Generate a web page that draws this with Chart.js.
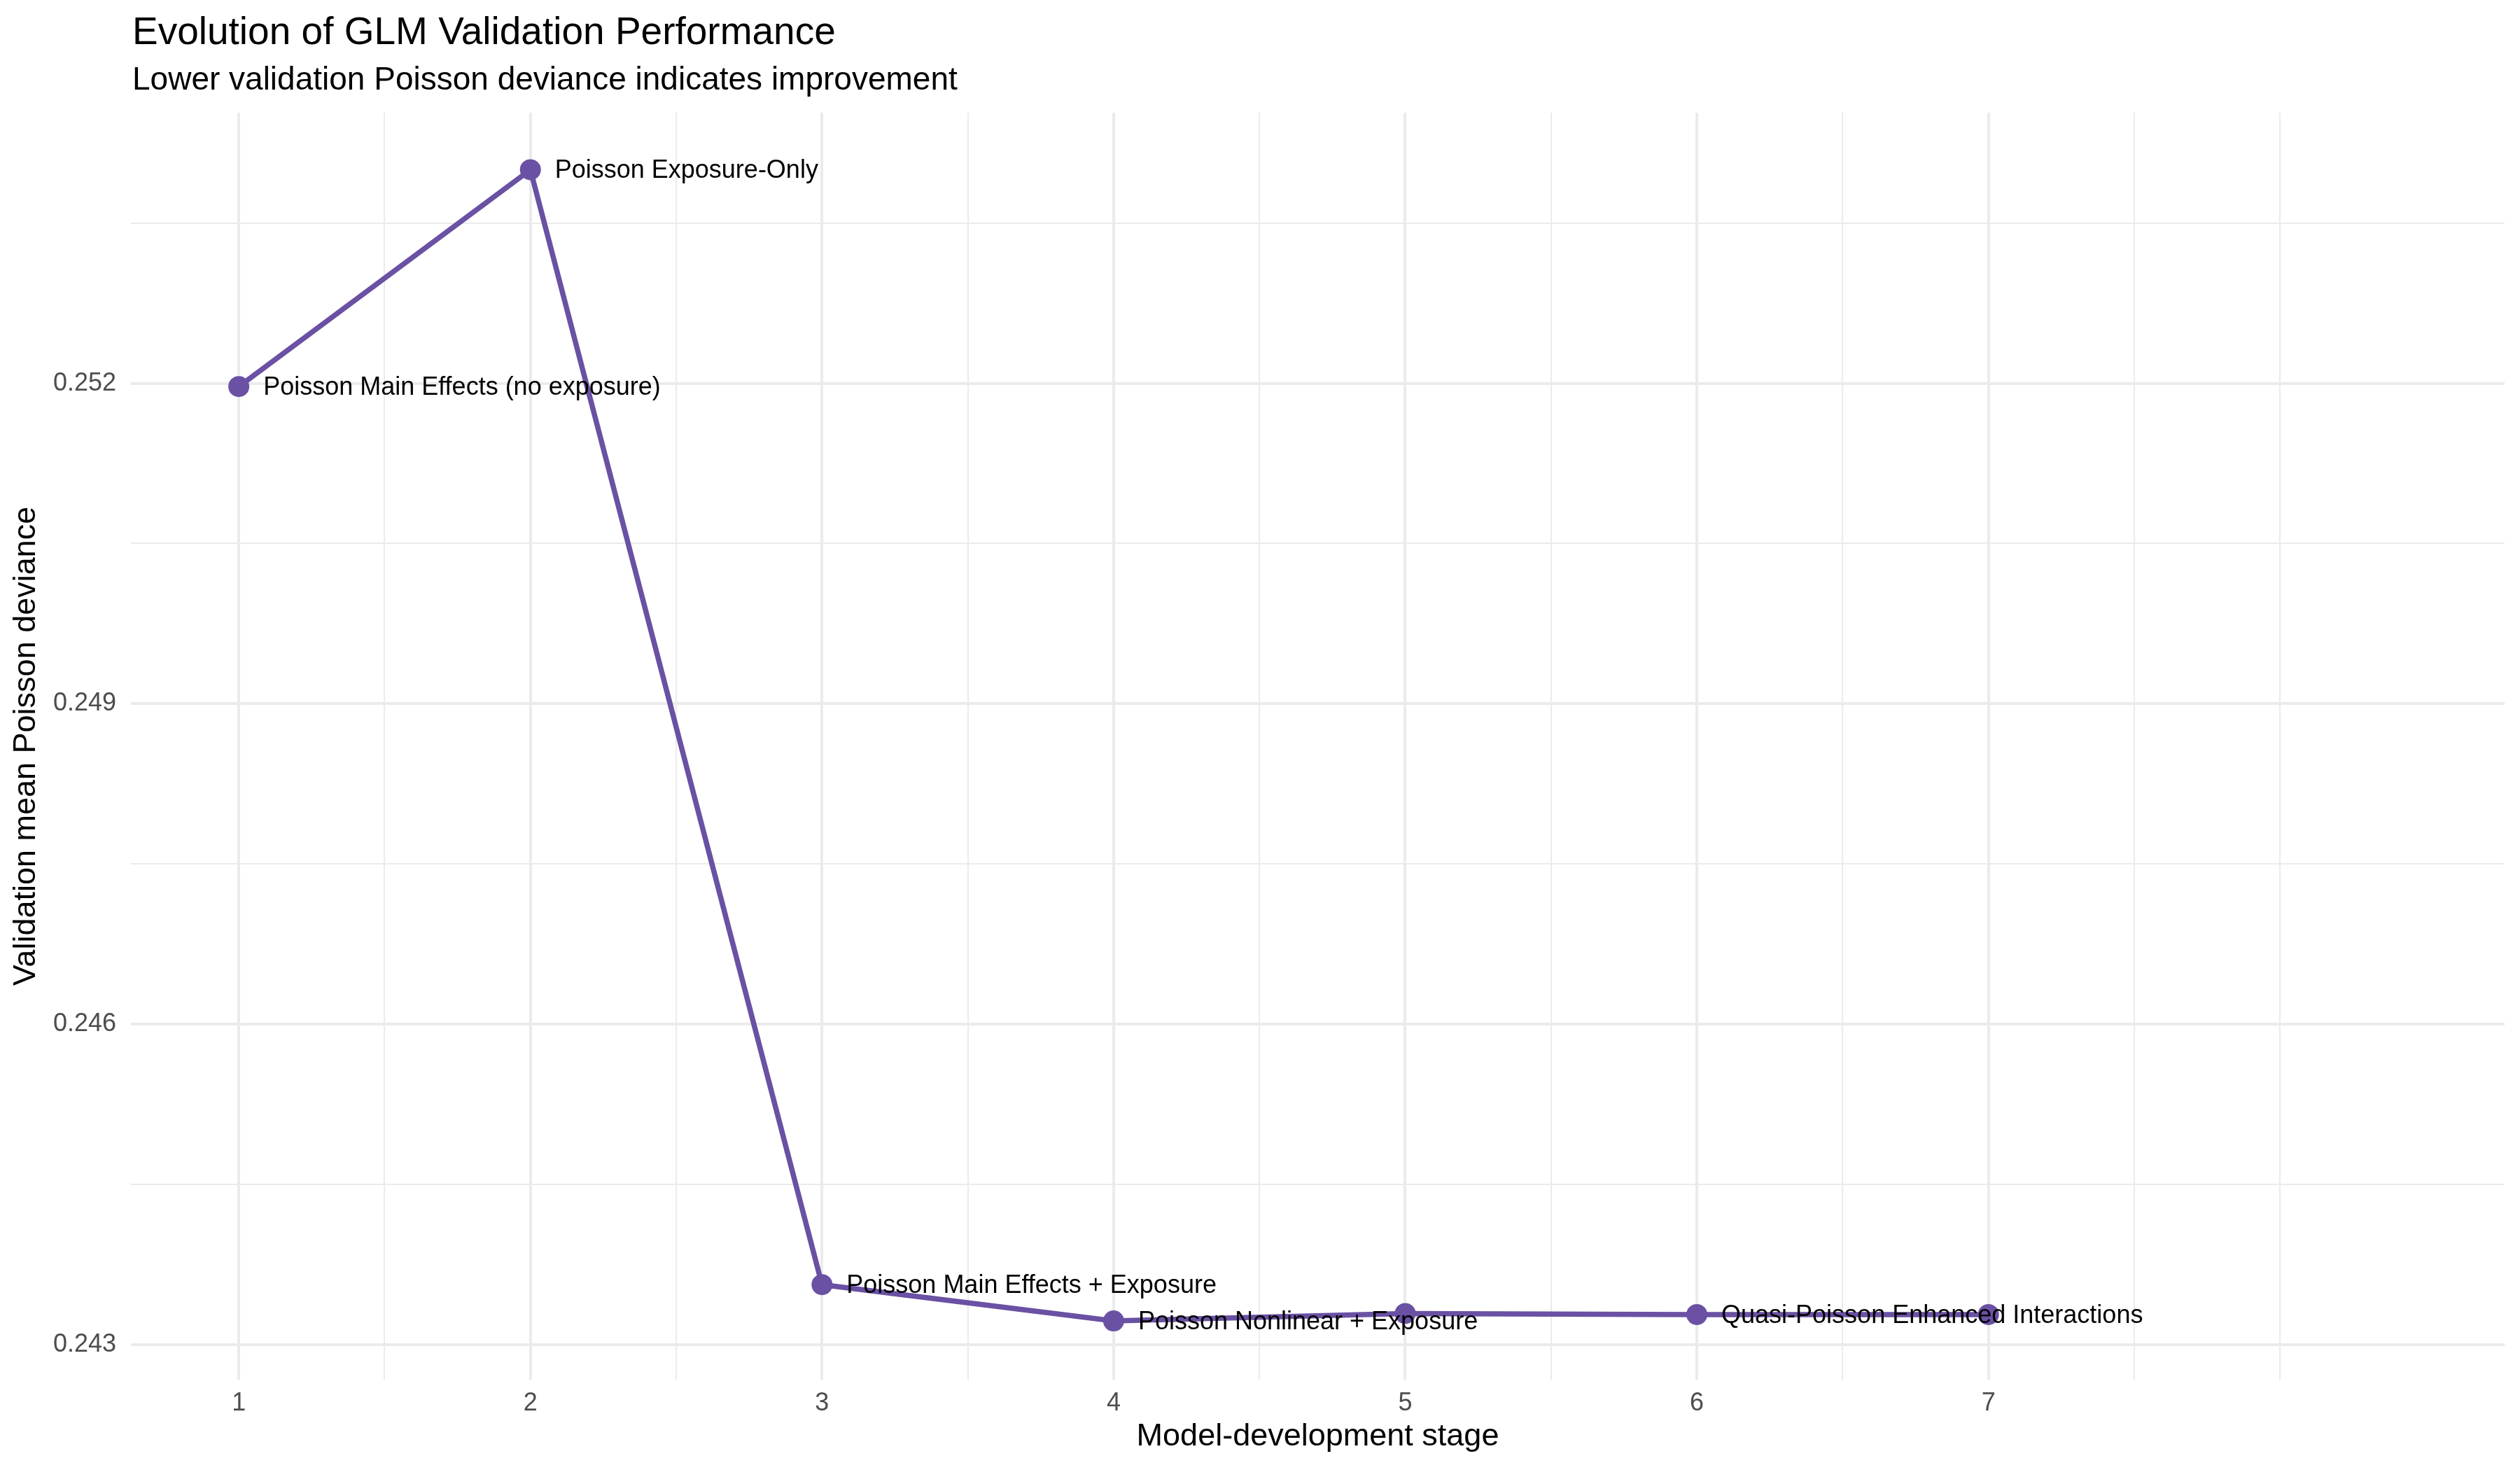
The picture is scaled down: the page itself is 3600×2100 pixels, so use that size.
<!DOCTYPE html>
<html>
<head>
<meta charset="utf-8">
<script src="https://cdn.jsdelivr.net/npm/chart.js@4.4.1/dist/chart.umd.min.js"></script>
<style>
  html, body { margin: 0; padding: 0; background: #ffffff; }
  #chart { display: block; }
</style>
</head>
<body>
<canvas id="chart" width="3600" height="2100"></canvas>
<script>
// Chart data
const stages = [1, 2, 3, 4, 5, 6, 7];
const deviance = [0.25197, 0.254, 0.24356, 0.24322, 0.24329, 0.24328, 0.24328];
const modelLabels = [
  "Poisson Main Effects (no exposure)",
  "Poisson Exposure-Only",
  "Poisson Main Effects + Exposure",
  "Poisson Nonlinear + Exposure",
  "",
  "Quasi-Poisson Enhanced Interactions",
  "",
];

// Tick positions
const xMajorTicks = [1, 2, 3, 4, 5, 6, 7];
const xMinorTicks = [1.5, 2.5, 3.5, 4.5, 5.5, 6.5, 7.5, 8];
const yMajorTicks = [0.243, 0.246, 0.249, 0.252];
const yMinorTicks = [0.2445, 0.2475, 0.2505, 0.2535];

const titleText = "Evolution of GLM Validation Performance";
const subtitleText = "Lower validation Poisson deviance indicates improvement";
const xTitle = "Model-development stage";
const yTitle = "Validation mean Poisson deviance";

const FONT = "'Liberation Sans', Arial, Helvetica, sans-serif";
const PURPLE = "#6A51A3";
const GRID = "#EBEBEB";

// Title and subtitle, left aligned with the panel
const titlePlugin = {
  id: "titles",
  afterDraw(chart) {
    const { ctx, chartArea } = chart;
    ctx.save();
    ctx.fillStyle = "#000000";
    ctx.textAlign = "left";
    ctx.textBaseline = "alphabetic";
    ctx.font = `55px ${FONT}`;
    ctx.fillText(titleText, chartArea.left + 2, 63);
    ctx.font = `46px ${FONT}`;
    ctx.fillText(subtitleText, chartArea.left + 2, 128);
    ctx.restore();
  },
};

// Text labels next to each point
const pointLabelPlugin = {
  id: "pointLabels",
  afterDatasetsDraw(chart) {
    const { ctx } = chart;
    const meta = chart.getDatasetMeta(0);
    ctx.save();
    ctx.fillStyle = "#000000";
    ctx.textAlign = "left";
    ctx.textBaseline = "middle";
    ctx.font = `36px ${FONT}`;
    meta.data.forEach((pt, i) => {
      if (!modelLabels[i]) return;
      ctx.fillText(modelLabels[i], pt.x + 35, pt.y + 2);
    });
    ctx.restore();
  },
};

function toTicks(major, minor) {
  return major.concat(minor).sort((a, b) => a - b).map((v) => ({ value: v }));
}

const points = stages.map((s, i) => ({ x: s, y: deviance[i] }));

new Chart(document.getElementById("chart").getContext("2d"), {
  type: "line",
  data: {
    datasets: [
      {
        data: points,
        borderColor: PURPLE,
        backgroundColor: PURPLE,
        borderWidth: 7.5,
        pointRadius: 15,
        pointBorderWidth: 0,
        pointBackgroundColor: PURPLE,
        tension: 0,
        clip: false,
      },
    ],
  },
  options: {
    responsive: false,
    devicePixelRatio: 1,
    animation: false,
    layout: {
      padding: { top: 161, right: 22, left: 0, bottom: 0 },
    },
    plugins: {
      legend: { display: false },
      tooltip: { enabled: false },
    },
    scales: {
      x: {
        type: "linear",
        min: 0.63,
        max: 8.77,
        afterBuildTicks: (scale) => {
          scale.ticks = toTicks(xMajorTicks, xMinorTicks);
        },
        afterFit: (scale) => {
          scale.height = 129;
        },
        border: { display: false },
        grid: {
          color: GRID,
          drawTicks: false,
          lineWidth: (ctx) =>
            ctx.tick && xMajorTicks.includes(ctx.tick.value) ? 4 : 2,
        },
        ticks: {
          autoSkip: false,
          maxRotation: 0,
          padding: 12,
          color: "#4D4D4D",
          font: { family: FONT, size: 36 },
          callback: (value) => (xMajorTicks.includes(value) ? String(value) : ""),
        },
        title: {
          display: true,
          text: xTitle,
          color: "#000000",
          font: { family: FONT, size: 45 },
          padding: { top: 0, bottom: 20 },
        },
      },
      y: {
        type: "linear",
        min: 0.24267,
        max: 0.254534,
        afterBuildTicks: (scale) => {
          scale.ticks = toTicks(yMajorTicks, yMinorTicks);
        },
        afterFit: (scale) => {
          scale.width = 187;
        },
        border: { display: false },
        grid: {
          color: GRID,
          drawTicks: false,
          lineWidth: (ctx) =>
            ctx.tick && yMajorTicks.includes(ctx.tick.value) ? 4 : 2,
        },
        ticks: {
          autoSkip: false,
          padding: 21,
          color: "#4D4D4D",
          font: { family: FONT, size: 36 },
          callback: (value) => (yMajorTicks.includes(value) ? value.toFixed(3) : ""),
        },
        title: {
          display: true,
          text: yTitle,
          color: "#000000",
          font: { family: FONT, size: 45 },
          padding: { top: 11, bottom: 0 },
        },
      },
    },
  },
  plugins: [titlePlugin, pointLabelPlugin],
});
</script>
</body>
</html>
